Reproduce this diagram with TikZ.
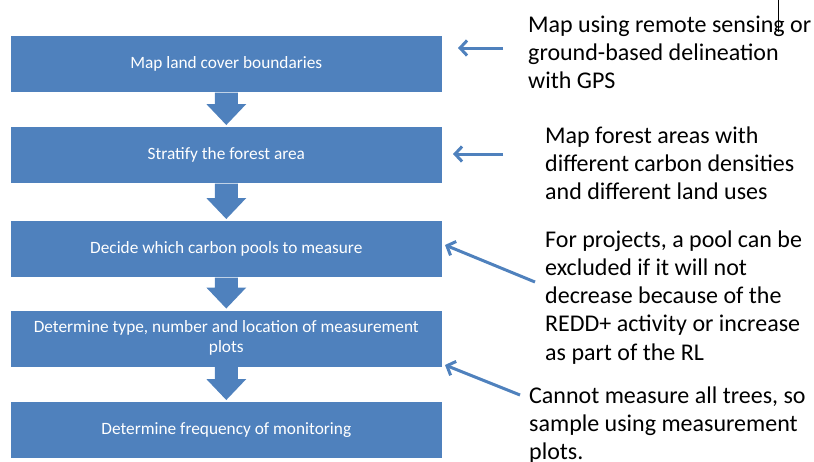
\documentclass[tikz,border=0pt]{standalone}
\usepackage{fontspec}
\setmainfont{Carlito}
\usetikzlibrary{arrows.meta,calc}
\definecolor{obox}{HTML}{4F81BD}
\begin{document}
\begin{tikzpicture}[x=1pt,y=-1pt,
  stepbox/.style={fill=obox,draw=white,line width=0.6pt,minimum width=432pt,minimum height=57pt,
    anchor=north west,inner sep=0pt,align=center,text=white,font=\fontsize{17.3}{20}\selectfont},
  note/.style={anchor=base west,inner sep=0pt,align=left,text=black,font=\fontsize{24}{28.3}\selectfont},
  callarrow/.style={draw=obox,line width=3pt,-{Straight Barb[length=7pt,width=15pt]}},
  downarrow/.style={fill=obox,draw=none}]
\useasboundingbox (0,0) rectangle (814,461);
\node[stepbox] (b1) at (10,35) {Map land cover boundaries};
\node[stepbox] (b2) at (10,126) {Stratify the forest area};
\node[stepbox] (b3) at (10,220) {Decide which carbon pools to measure};
\node[stepbox] (b4) at (10,309.5) {Determine type, number and location of measurement\\plots};
\node[stepbox] (b5) at (10,401) {Determine frequency of monitoring};
% block arrows
\foreach \a/\b in {b1/b2,b2/b3,b3/b4,b4/b5}{
  \fill[downarrow] ($(\a.south)+(-11.5,0)$) -- ($(\a.south)+(11.5,0)$)
    -- ($(\b.north)+(11.5,-22)$) -- ($(\b.north)+(20,-22)$) -- ($(\b.north)+(0,-1)$)
    -- ($(\b.north)+(-20,-22)$) -- ($(\b.north)+(-11.5,-22)$) -- cycle;
}
% notes (anchored at the baseline of their last line)
\node[note] (n1) at (528,88.6) {Map using remote sensing or\\ground-based delineation\\with GPS};
\node[note] (n2) at (545,199.6) {Map forest areas with\\different carbon densities\\and different land uses};
\node[note] (n3) at (545,360.2) {For projects, a pool can be\\excluded if it will not\\decrease because of the\\REDD+ activity or increase\\as part of the RL};
\node[note] (n4) at (529,459.6) {Cannot measure all trees, so\\sample using measurement\\plots.};
% callout arrows
\coordinate (a1s) at (503,48);  \coordinate (a1e) at (458,48);
\coordinate (a2s) at (503,154); \coordinate (a2e) at (453,154);
\coordinate (a3s) at (535,282); \coordinate (a3e) at (445,245);
\coordinate (a4s) at (520,395); \coordinate (a4e) at (445,365);
\draw[callarrow] (a1s) -- (a1e);
\draw[callarrow] (a2s) -- (a2e);
\draw[callarrow] (a3s) -- (a3e);
\draw[callarrow] (a4s) -- (a4e);
% thin mark
\coordinate (m1) at (778,0); \coordinate (m2) at (778,32);
\draw[black,line width=1pt] (m1) -- (m2);
\end{tikzpicture}
\end{document}
